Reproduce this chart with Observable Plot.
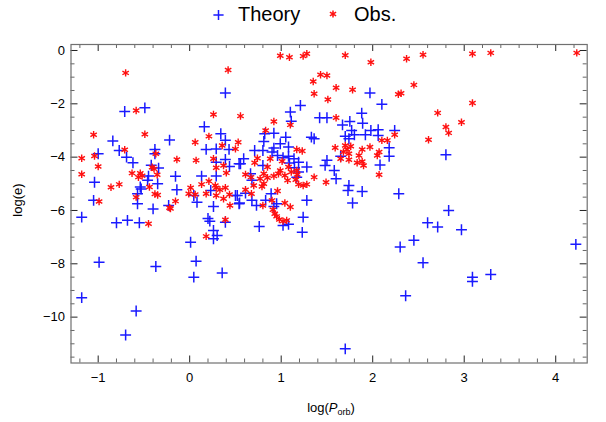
<!DOCTYPE html>
<html><head><meta charset="utf-8">
<script src="https://cdn.jsdelivr.net/npm/d3@7"></script>
<script src="https://cdn.jsdelivr.net/npm/@observablehq/plot@0.6"></script>
<style>
body{margin:0;background:#fff;font-family:"Liberation Sans",Arial,sans-serif}
svg{display:block}
</style>
</head><body><div id="chart"></div>
<script>
// Series: [log(Porb), log(e)]
const theory = [
[-0.71,-2.29],[-0.49,-2.15],[0.39,-1.59],[0.16,-2.86],[-0.84,-3.39],[-0.22,-3.36],[-1.00,-3.87],[-0.77,-3.75],
[-0.69,-4.0],[-0.62,-4.21],[-0.38,-3.71],[-0.38,-3.87],[-0.42,-4.30],[-0.34,-4.41],[-0.45,-4.71],[-0.46,-4.87],
[-0.35,-5.0],[-0.155,-4.72],[-1.04,-4.94],[0.13,-4.71],[0.29,-4.71],[0.18,-3.71],[0.29,-3.69],[0.34,-3.12],
[0.39,-3.37],[0.39,-4.09],[0.43,-3.71],[0.435,-4.35],[0.54,-4.25],[0.29,-4.19],[-0.54,-5.12],[-0.14,-5.22],
[-1.05,-5.62],[-1.18,-6.25],[-0.80,-6.46],[-0.68,-6.37],[-0.55,-6.46],[-0.57,-5.75],[-0.57,-5.37],[-0.53,-5.19],
[-0.40,-5.94],[-0.23,-5.81],[0.01,-7.19],[0.07,-7.9],[0.045,-8.5],[-0.99,-7.94],[-0.37,-8.1],[-1.18,-9.27],
[-0.585,-9.77],[-0.70,-10.67],[0.355,-8.34],[0.08,-5.69],[0.045,-5.44],[0.20,-6.30],[0.22,-6.40],[0.26,-5.85],
[0.26,-6.75],[0.26,-7.06],[0.30,-6.94],[0.23,-5.25],[0.54,-5.75],[0.39,-6.44],[0.52,-5.44],
[1.97,-1.59],[2.10,-2.02],[1.21,-2.06],[1.10,-2.31],[1.11,-2.65],[1.42,-2.52],[1.50,-2.52],[1.88,-2.35],
[1.89,-2.73],[1.67,-2.79],[1.75,-2.66],[1.77,-3.0],[1.70,-3.22],[1.80,-3.16],[1.92,-3.16],[1.98,-3.0],
[2.06,-2.97],[2.06,-3.19],[2.24,-3.0],[2.18,-3.65],[2.18,-3.97],[2.08,-4.29],[1.74,-3.31],[1.33,-3.25],
[1.36,-3.31],[0.82,-3.12],[0.92,-3.10],[1.05,-3.25],[0.81,-3.41],[0.99,-3.5],[1.08,-3.62],[0.92,-3.66],
[0.90,-3.81],[0.71,-3.75],[0.80,-3.75],[0.59,-4.06],[0.555,-4.25],[0.80,-4.31],[0.96,-3.94],[1.02,-4.02],
[1.08,-3.97],[1.14,-4.06],[1.09,-4.22],[1.19,-4.19],[1.145,-4.40],[1.19,-4.56],[1.28,-4.37],[1.17,-4.75],
[1.50,-4.12],[1.48,-4.31],[1.58,-4.5],[1.60,-4.81],[1.65,-3.97],[1.74,-5.06],[0.665,-4.62],[0.68,-4.87],
[0.50,-5.44],[0.545,-5.72],[0.61,-5.35],[0.68,-5.62],[0.73,-5.81],[0.83,-5.62],[0.89,-5.37],[0.95,-5.75],
[0.92,-5.85],[0.76,-6.6],[1.02,-6.56],[1.08,-6.52],[1.24,-6.25],[1.23,-6.82],[1.28,-5.62],[1.73,-5.25],
[1.885,-5.29],[1.78,-5.72],[2.285,-5.37],[2.60,-6.46],[2.45,-7.12],[2.30,-7.37],[2.55,-7.96],[2.36,-9.2],
[1.70,-11.19],[2.80,-3.91],[2.83,-6.0],[2.71,-6.62],[2.97,-6.72],[3.09,-8.5],[3.09,-8.66],[3.29,-8.4],
[4.22,-7.27]
];
const obs = [
[-0.70,-0.84],[-0.585,-2.25],[-0.49,-3.14],[-1.05,-3.16],[-1.18,-4.04],[-1.18,-4.64],[-1.04,-3.96],[-1.00,-4.35],
[-0.71,-3.72],[-0.37,-3.87],[-0.14,-4.09],[0.07,-4.12],[0.06,-3.44],[0.26,-2.40],[0.21,-3.22],[0.42,-0.73],
[-0.63,-4.6],[-0.54,-4.6],[-0.52,-4.7],[-0.56,-4.75],[-0.41,-4.38],[-0.39,-4.44],[-0.355,-4.66],[-0.86,-5.13],
[-0.77,-5.02],[0.26,-4.06],[0.29,-4.40],[0.37,-4.31],[0.40,-4.59],[0.355,-3.56],[0.50,-3.69],[0.53,-3.44],
[0.39,-5.15],[0.29,-5.15],[0.13,-5.02],[0.01,-5.15],[-0.44,-5.12],[0.21,-4.9],
[-0.99,-5.66],[-0.585,-5.5],[-0.38,-5.38],[-0.35,-5.42],[-0.45,-6.50],[-0.22,-5.9],[-0.21,-5.93],[-0.155,-5.65],
[-0.01,-5.37],[0.06,-5.4],[0.18,-5.37],[0.28,-5.06],[0.33,-5.22],[0.29,-5.44],[0.435,-5.4],[0.37,-5.56],
[0.44,-5.81],[0.39,-6.35],[0.18,-6.97],
[0.99,-0.2],[1.09,-0.25],[1.24,-0.21],[1.28,-0.12],[1.70,-0.18],[1.98,-0.44],[2.37,-0.31],[2.55,-0.16],
[1.43,-0.91],[1.50,-0.94],[1.35,-1.16],[1.36,-1.62],[1.60,-1.40],[1.78,-1.47],[1.51,-1.84],[2.28,-1.64],
[2.31,-1.60],[2.45,-1.29],[2.61,-3.35],[0.555,-2.46],[0.92,-2.66],[1.10,-2.79],[1.60,-2.52],[0.83,-3.0],
[1.17,-3.71],[1.23,-3.77],[0.74,-4.04],[0.71,-4.21],[0.88,-4.06],[1.01,-4.15],[0.85,-4.37],[0.61,-4.65],
[1.36,-4.75],[1.59,-3.65],[1.70,-3.56],[1.72,-3.71],[1.76,-3.59],[1.68,-3.81],[1.74,-3.87],[1.65,-4.06],
[1.74,-4.10],[1.85,-3.94],[1.885,-3.71],[1.885,-4.16],[1.90,-4.31],[1.83,-4.21],[1.97,-3.62],[2.05,-3.94],
[2.07,-3.81],[2.10,-3.37],[2.16,-3.37],[2.24,-3.16],[2.07,-4.66],[1.49,-4.94],[0.99,-4.5],[1.17,-4.5],
[1.08,-4.37],[0.81,-4.62],[0.92,-4.71],
[0.67,-4.75],[0.70,-5.06],[0.61,-5.22],[0.675,-5.37],[0.77,-4.81],[0.81,-5.0],[0.79,-5.1],[0.85,-4.77],
[0.97,-4.62],[0.96,-5.27],[1.07,-4.87],[1.04,-4.69],[1.11,-4.56],[1.175,-4.65],[1.16,-4.85],[1.19,-5.02],
[1.24,-5.06],[1.28,-5.02],[0.80,-5.81],[0.90,-5.62],[0.91,-5.97],[0.93,-6.12],[0.95,-6.22],[0.98,-6.34],
[1.02,-6.4],[1.06,-6.37],[1.04,-5.72],[1.10,-5.87],
[3.09,-0.12],[3.29,-0.09],[4.23,-0.09],[3.09,-1.97],[2.71,-2.34],[2.97,-2.69],[2.80,-2.87],[2.83,-3.09]
];
const seriesNames = ["Theory", "Obs."];
const xTicks = [-1, 0, 1, 2, 3, 4];
const yTicks = [-10, -8, -6, -4, -2, 0];
const xMinorTicks = d3.range(-12, 43, 2).map(d => d / 10).filter(d => !Number.isInteger(d));
const yMinorTicks = d3.range(-23, 1).map(d => d / 2).filter(d => d % 2 !== 0);
const xDomain = [-1.297, 4.344];
const yDomain = [-11.72, 0.225];

const W = 606, H = 390, mt = 12, mb = 59.5, ml = 70.5, mr = 19.3;
const innerH = H - mt - mb, innerW = W - ml - mr;
const majorLen = 7, minorLen = 4;
const blue = "#1a1aff", red = "#ff1010";
const font = '"Liberation Sans", Arial, sans-serif';

// Legend (above the plot)
const legend = d3.create("svg").attr("width", W).attr("height", 32);
legend.append("path").attr("d", d3.symbol(d3.symbolPlus, 36)()).attr("transform", "translate(218.5,15)")
  .attr("fill", "none").attr("stroke", blue).attr("stroke-width", 1.5);
legend.append("text").attr("x", 238).attr("y", 21).attr("font-family", font).attr("font-size", 20).text(seriesNames[0]);
legend.append("path").attr("d", d3.symbol(d3.symbolAsterisk, 36)()).attr("transform", "translate(333,14)")
  .attr("fill", "none").attr("stroke", red).attr("stroke-width", 1.5);
legend.append("text").attr("x", 354).attr("y", 21).attr("font-family", font).attr("font-size", 20).text(seriesNames[1]);

const tickStroke = "#222";
const chart = Plot.plot({
  width: W, height: H, marginTop: mt, marginBottom: mb, marginLeft: ml, marginRight: mr,
  x: {domain: xDomain}, y: {domain: yDomain},
  style: {fontFamily: font, fontSize: "13px", color: "black", background: "white"},
  marks: [
    // ticks on all four sides, pointing inward
    Plot.tickX(xTicks, {x: d => d, insetTop: innerH - majorLen, stroke: tickStroke}),
    Plot.tickX(xTicks, {x: d => d, insetBottom: innerH - majorLen, stroke: tickStroke}),
    Plot.tickX(xMinorTicks, {x: d => d, insetTop: innerH - minorLen, stroke: "#666"}),
    Plot.tickX(xMinorTicks, {x: d => d, insetBottom: innerH - minorLen, stroke: "#666"}),
    Plot.tickY(yTicks, {y: d => d, insetRight: innerW - majorLen, stroke: tickStroke}),
    Plot.tickY(yTicks, {y: d => d, insetLeft: innerW - majorLen, stroke: tickStroke}),
    Plot.tickY(yMinorTicks, {y: d => d, insetRight: innerW - minorLen, stroke: "#666"}),
    Plot.tickY(yMinorTicks, {y: d => d, insetLeft: innerW - minorLen, stroke: "#666"}),
    Plot.frame({stroke: "#707070", strokeWidth: 1.2}),
    Plot.axisX(xTicks, {tickSize: 0, tickPadding: 10, label: null, fontSize: 13}),
    Plot.axisY(yTicks, {tickSize: 0, tickPadding: 6, label: null, fontSize: 13}),
    Plot.dot(theory, {x: d => d[0], y: d => d[1], symbol: "plus", r: 3.6, stroke: blue, strokeWidth: 1.5}),
    Plot.dot(obs, {x: d => d[0], y: d => d[1], symbol: "asterisk", r: 3.5, stroke: red, strokeWidth: 1.4})
  ]
});

// Axis titles
const svg = d3.select(chart);
const xl = svg.append("text").attr("x", 331).attr("y", 380).attr("text-anchor", "middle")
  .attr("font-family", font).attr("font-size", 13).attr("fill", "black");
xl.append("tspan").text("log(");
xl.append("tspan").attr("font-style", "italic").text("P");
xl.append("tspan").attr("font-size", 9).attr("dy", 3).text("orb");
xl.append("tspan").attr("dy", -3).text(")");
svg.append("text").attr("transform", "translate(19,168) rotate(-90)").attr("text-anchor", "middle")
  .attr("dominant-baseline", "middle").attr("font-family", font).attr("font-size", 13).attr("fill", "black").text("log(e)");

const root = document.getElementById("chart");
root.append(legend.node());
root.append(chart);
</script>
</body></html>
